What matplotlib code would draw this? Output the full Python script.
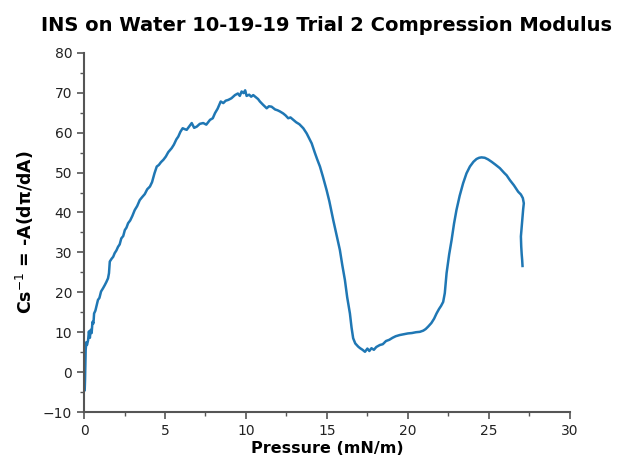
import matplotlib
matplotlib.use("Agg")
import matplotlib.pyplot as plt
from matplotlib.ticker import MultipleLocator

pressure = [
    0.04, 0.06, 0.08, 0.10, 0.14, 0.18, 0.25, 0.30, 0.36, 0.41, 0.47, 0.52, 0.58, 0.62,
    0.70, 0.78, 0.86, 0.95, 1.05, 1.17, 1.28, 1.38, 1.48, 1.54, 1.59, 1.70, 1.80, 1.89,
    2.00, 2.10, 2.20, 2.30, 2.42, 2.52, 2.62, 2.72, 2.85, 2.98, 3.13, 3.28, 3.44, 3.60,
    3.75, 3.90, 4.07, 4.20, 4.35, 4.49, 4.62, 4.75, 4.90, 5.05, 5.20, 5.41, 5.55, 5.70,
    5.82, 5.95, 6.09, 6.20, 6.34, 6.50, 6.65, 6.80, 6.96, 7.15, 7.36, 7.55, 7.78, 7.95,
    8.09, 8.25, 8.44, 8.60, 8.75, 8.91, 9.10, 9.32, 9.50, 9.62, 9.73, 9.85, 9.95, 10.04,
    10.20, 10.32, 10.45, 10.60, 10.75, 10.86, 11.05, 11.28, 11.42, 11.58, 11.80, 11.95,
    12.10, 12.30, 12.45, 12.61, 12.75, 12.92, 13.10, 13.30, 13.54, 13.75, 13.90, 14.06,
    14.25, 14.40, 14.57, 14.75, 14.98, 15.15, 15.39, 15.60, 15.80, 15.95, 16.11, 16.25,
    16.42, 16.52, 16.62, 16.75, 16.93, 17.05, 17.20, 17.35, 17.50, 17.62, 17.75, 17.90,
    18.05, 18.27, 18.45, 18.65, 18.85, 19.05, 19.25, 19.50, 19.75, 20.00, 20.25, 20.50,
    20.74, 20.95, 21.10, 21.25, 21.45, 21.62, 21.77, 21.92, 22.05, 22.18, 22.28, 22.39,
    22.55, 22.70, 22.85, 23.00, 23.20, 23.41, 23.62, 23.83, 24.05, 24.24, 24.40, 24.55,
    24.75, 24.95, 25.17, 25.40, 25.68, 25.95, 26.10, 26.30, 26.55, 26.81, 26.98, 27.10,
    27.16, 27.12, 27.05, 26.98, 27.00, 27.03, 27.06, 27.08,
]

modulus = [
    -4.5, -2.0, 2.5, 5.5, 7.5, 6.8, 8.0, 10.2, 8.6, 10.6, 9.8, 12.6, 12.2, 14.7,
    15.4, 16.8, 18.1, 18.6, 20.2, 21.0, 21.8, 22.6, 23.5, 24.8, 27.7, 28.4, 28.9, 29.8,
    30.5, 31.4, 32.0, 33.5, 34.1, 35.6, 36.2, 37.3, 38.0, 39.1, 40.6, 41.6, 43.1, 43.9,
    44.6, 45.8, 46.5, 47.6, 49.8, 51.5, 51.9, 52.6, 53.2, 54.0, 55.1, 56.1, 57.0, 58.3,
    59.0, 60.2, 61.1, 60.9, 60.7, 61.6, 62.4, 61.2, 61.5, 62.2, 62.4, 62.0, 63.2, 63.6,
    64.9, 66.0, 67.8, 67.4, 68.0, 68.2, 68.6, 69.4, 69.8, 69.2, 70.3, 69.9, 70.6, 69.2,
    69.5, 69.0, 69.4, 68.9, 68.4, 67.8, 67.0, 66.1, 66.6, 66.5, 65.8, 65.6,
    65.3, 64.8, 64.3, 63.6, 63.8, 63.2, 62.6, 62.1, 61.1, 59.8, 58.6, 57.3,
    55.0, 53.3, 51.5, 49.0, 45.6, 42.8, 38.1, 34.3, 30.6, 26.8, 23.1, 18.8,
    14.7, 11.2, 8.5, 7.2, 6.4, 6.0, 5.6, 5.1, 5.9, 5.3, 6.0, 5.6,
    6.3, 6.8, 7.0, 7.8, 8.1, 8.6, 9.0, 9.3, 9.5, 9.7, 9.8, 10.0,
    10.1, 10.4, 10.8, 11.4, 12.3, 13.4, 14.7, 15.8, 16.6, 17.6, 19.8, 24.8,
    29.5, 33.1, 37.2, 40.6, 44.2, 47.3, 49.8, 51.5, 52.7, 53.4, 53.7, 53.8,
    53.7, 53.3, 52.7, 52.0, 51.1, 49.9, 49.3, 48.1, 46.8, 45.2, 44.5, 43.6,
    42.3, 40.8, 37.3, 34.0, 31.5, 29.5, 28.0, 26.6,
]

title = "INS on Water 10-19-19 Trial 2 Compression Modulus"
xlabel = "Pressure (mN/m)"
ylabel = r"Cs$^{-1}$ = -A(dπ/dA)"

fig = plt.figure(figsize=(6.18, 4.63), dpi=100)
ax = fig.add_axes([0.136, 0.110, 0.786, 0.776])
ax.plot(pressure, modulus, color="#1f77b4", linewidth=1.8)

ax.set_xlim(0, 30)
ax.set_ylim(-10, 80)
ax.xaxis.set_major_locator(MultipleLocator(5))
ax.xaxis.set_minor_locator(MultipleLocator(2.5))
ax.yaxis.set_major_locator(MultipleLocator(10))
ax.yaxis.set_minor_locator(MultipleLocator(5))

for side in ["top", "right"]:
    ax.spines[side].set_visible(False)
for side in ["left", "bottom"]:
    ax.spines[side].set_color("#555555")
    ax.spines[side].set_linewidth(1.5)

ax.tick_params(which="major", length=5, width=1.2, color="#555555", labelsize=10, labelcolor="#222222")
ax.tick_params(which="minor", length=3, width=1.0, color="#555555")

ax.set_title(title, fontsize=14, fontweight="bold", pad=16)
ax.set_xlabel(xlabel, fontsize=11.5, fontweight="bold", labelpad=2)
ax.set_ylabel(ylabel, fontsize=12.5, fontweight="bold", labelpad=5)

fig.savefig("out.png", dpi=100)
